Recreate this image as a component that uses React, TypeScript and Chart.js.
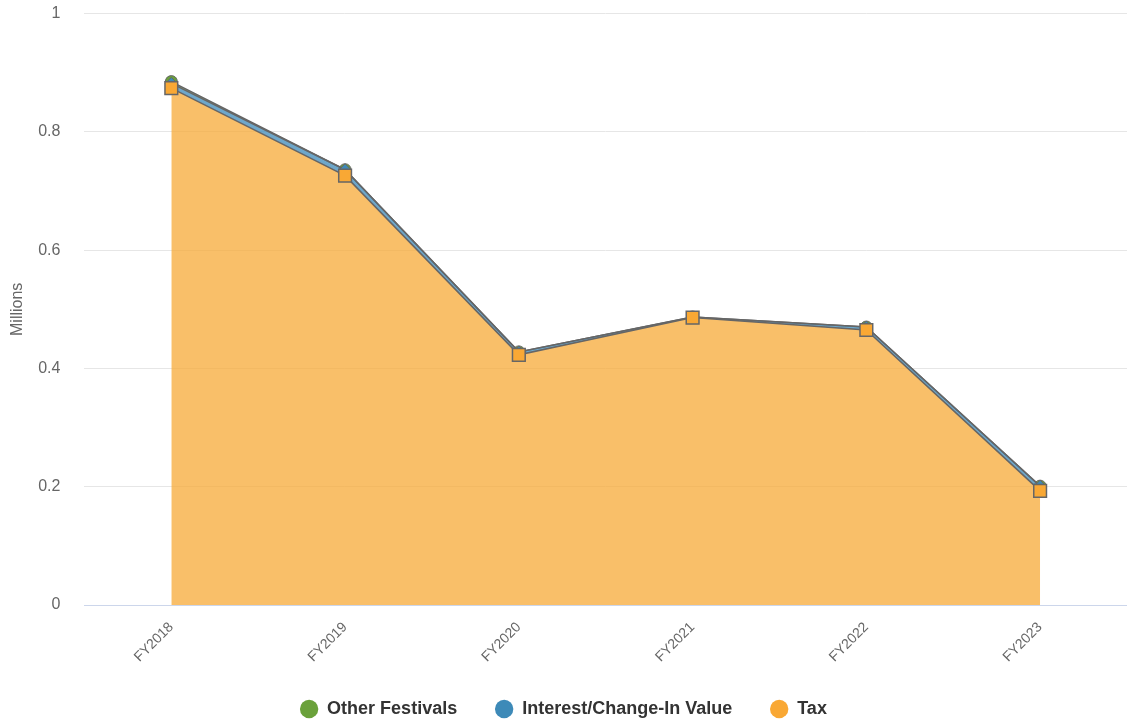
import React, { useEffect, useRef } from "react";
import { Chart, registerables } from "chart.js";

Chart.register(...registerables);

const categories = ["FY2018", "FY2019", "FY2020", "FY2021", "FY2022", "FY2023"];
const taxValues = [0.874, 0.726, 0.423, 0.486, 0.465, 0.193];
const interestValues = [0.008, 0.01, 0.005, 0.001, 0.005, 0.008];
const otherFestivalsValues = [0.003, 0.0, 0.0, 0.0, 0.0, 0.0];
const yTicks = [0, 0.2, 0.4, 0.6, 0.8, 1];

const legendColors = ["#f9a834", "#3d8ab8", "#6aa13a"];
const FONT = "Liberation Sans, Arial, sans-serif";

export default function App() {
  const ref = useRef<HTMLCanvasElement | null>(null);
  useEffect(() => {
    document.body.style.margin = "0";
    const ctx = ref.current!.getContext("2d")!;
    const chart = new Chart(ctx, {
      type: "line",
      data: {
        labels: categories,
        datasets: [
          {
            label: "Tax",
            data: taxValues,
            fill: "origin",
            backgroundColor: "rgba(247,168,52,0.74)",
            borderColor: "#666666",
            borderWidth: 1.5,
            pointStyle: "rect",
            pointRadius: 9,
            pointBackgroundColor: "#f9a834",
            pointBorderColor: "#666666",
            pointBorderWidth: 1.5,
            tension: 0,
          },
          {
            label: "Interest/Change-In Value",
            data: interestValues,
            fill: "-1",
            backgroundColor: "rgba(61,138,184,0.75)",
            borderColor: "#666666",
            borderWidth: 1.5,
            pointStyle: "rectRot",
            pointRadius: 6,
            pointBackgroundColor: "#3d8ab8",
            pointBorderColor: "#666666",
            pointBorderWidth: 1,
            tension: 0,
          },
          {
            label: "Other Festivals",
            data: otherFestivalsValues,
            fill: "-1",
            backgroundColor: "rgba(106,161,58,0.75)",
            borderColor: "#666666",
            borderWidth: 1.5,
            pointStyle: "circle",
            pointRadius: 6,
            pointBackgroundColor: "#6aa13a",
            pointBorderColor: "#666666",
            pointBorderWidth: 1,
            tension: 0,
          },
        ],
      },
      options: {
        animation: false,
        responsive: false,
        maintainAspectRatio: false,
        layout: { autoPadding: false, padding: { top: 4, right: 0, left: 0, bottom: -4 } },
        plugins: {
          tooltip: { enabled: false },
          legend: {
            position: "bottom",
            reverse: true,
            labels: {
              usePointStyle: true,
              boxWidth: 18,
              boxHeight: 13,
              padding: 38,
              color: "#333333",
              font: { family: FONT, size: 18, weight: "bold" },
              generateLabels: (c: any) =>
                c.data.datasets.map((ds: any, i: number) => ({
                  text: ds.label,
                  fillStyle: legendColors[i],
                  strokeStyle: legendColors[i],
                  lineWidth: 0,
                  pointStyle: "circle",
                  hidden: false,
                  datasetIndex: i,
                  fontColor: "#333333",
                })),
            },
          },
        },
        scales: {
          x: {
            offset: true,
            grid: { display: false, drawTicks: false },
            border: { display: true, color: "#ccd6eb", width: 1 },
            afterFit: (axis: any) => {
              axis.paddingRight = 0;
              axis.paddingLeft = 0;
              axis.height = 57;
              axis._computeLabelArea = function () {
                return { top: this.top, left: 0, bottom: this.chart.height, right: this.chart.width };
              };
            },
            ticks: {
              color: "#666666",
              maxRotation: 45,
              minRotation: 45,
              padding: 14,
              font: { family: FONT, size: 14 },
            },
          },
          y: {
            stacked: true,
            min: 0,
            max: 1,
            afterBuildTicks: (axis: any) => {
              axis.ticks = yTicks.map((v) => ({ value: v }));
            },
            grid: { color: "#e6e6e6", drawTicks: true, tickLength: 20, tickColor: "rgba(0,0,0,0)" },
            border: { display: false },
            title: {
              display: true,
              text: "Millions",
              color: "#666666",
              padding: { top: 8, bottom: 7 },
              font: { family: FONT, size: 16 },
            },
            ticks: {
              color: "#666666",
              padding: 4,
              font: { family: FONT, size: 16 },
              callback: (v: any) => String(Math.round(Number(v) * 10) / 10),
            },
          },
        },
      },
    });
    return () => chart.destroy();
  }, []);
  return (
    <div style={{ position: "absolute", left: 0, top: 0, width: 1127, height: 724 }}>
      <canvas ref={ref} width={1127} height={724} style={{ width: 1127, height: 724 }} />
    </div>
  );
}
